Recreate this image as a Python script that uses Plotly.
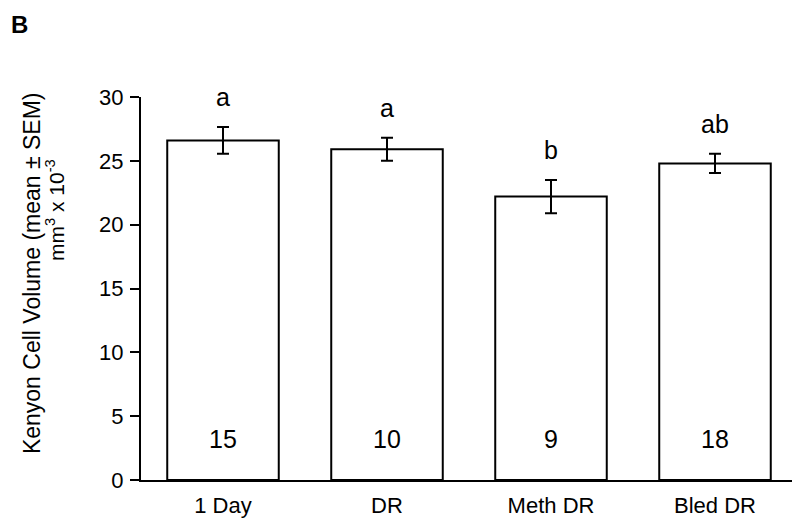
import plotly.graph_objects as go

categories = ["1 Day", "DR", "Meth DR", "Bled DR"]
means = [26.6, 25.9, 22.2, 24.8]
sems = [1.05, 0.9, 1.3, 0.75]
letters = ["a", "a", "b", "ab"]
counts = ["15", "10", "9", "18"]
count_y = 3.2

FONT = "Liberation Sans, Arial, Helvetica, sans-serif"

fig = go.Figure()
fig.add_trace(go.Bar(
    x=categories, y=means, width=0.68,
    marker=dict(color="white", line=dict(color="black", width=2)),
    error_y=dict(type="data", array=sems, visible=True, color="black", thickness=2, width=6),
    showlegend=False,
))

for c, m, s, l, n in zip(categories, means, sems, letters, counts):
    fig.add_annotation(x=c, y=m + s, text=l, showarrow=False, yanchor="middle", yshift=30,
                       font=dict(family=FONT, size=25, color="black"))
    fig.add_annotation(x=c, y=count_y, text=n, showarrow=False, yanchor="middle",
                       font=dict(family=FONT, size=25, color="black"))

fig.add_annotation(xref="paper", yref="paper", x=-0.2012, y=1.2298, text="<b>B</b>", showarrow=False,
                   xanchor="left", yanchor="top", font=dict(family=FONT, size=24, color="black"))

# y-axis title, two lines
fig.add_annotation(xref="paper", yref="paper", x=-0.166, y=0.5405,
                   text="Kenyon Cell Volume (mean ± SEM)", textangle=-90, showarrow=False,
                   xanchor="center", yanchor="middle", font=dict(family=FONT, size=23, color="black"))
fig.add_annotation(xref="paper", yref="paper", x=-0.131, y=0.705,
                   text="mm<sup>3</sup> x 10<sup>-3</sup>", textangle=-90, showarrow=False,
                   xanchor="center", yanchor="middle", font=dict(family=FONT, size=21, color="black"))

fig.update_layout(
    width=792, height=513,
    margin=dict(l=133, r=3, t=89, b=41),
    plot_bgcolor="white", paper_bgcolor="white",
    font=dict(family=FONT, size=22, color="black"),
)
fig.update_xaxes(range=[-0.5, 3.5], showline=True, linecolor="black", linewidth=2,
                 ticks="", showgrid=False, tickfont=dict(size=22), automargin=False,
                 ticklabelstandoff=5)
fig.update_yaxes(range=[0, 30], tickvals=[0, 5, 10, 15, 20, 25, 30], showline=True,
                 linecolor="black", linewidth=2, ticks="outside", ticklen=9, tickwidth=2,
                 tickcolor="black", showgrid=False, zeroline=False, tickfont=dict(size=22),
                 automargin=False, ticklabelstandoff=2)

fig.write_html("out.html")
